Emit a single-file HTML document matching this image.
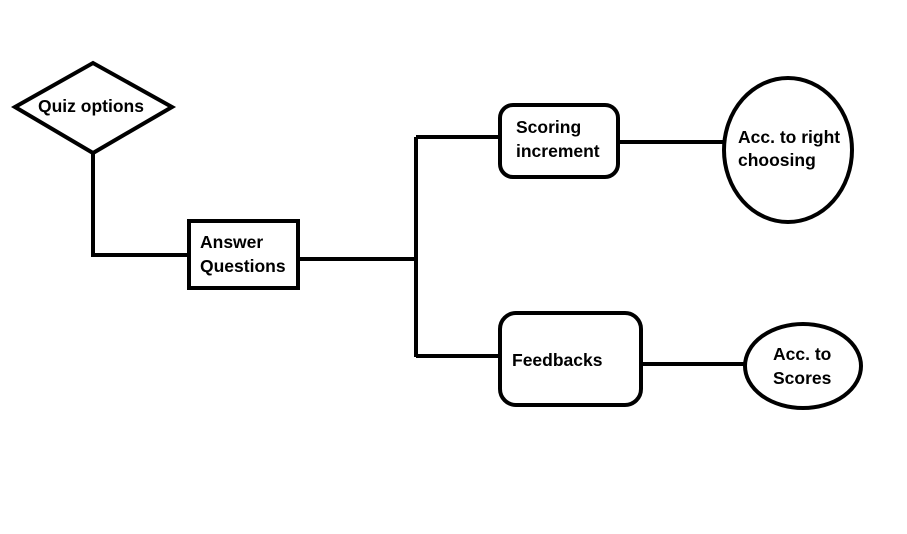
<!DOCTYPE html>
<html><head><style>
body{margin:0;background:#fff;}
svg text{font-family:"Liberation Sans",sans-serif;font-weight:bold;font-size:17.5px;fill:#000;}
</style></head><body>
<svg width="907" height="529" viewBox="0 0 907 529" xmlns="http://www.w3.org/2000/svg">
<g fill="none" stroke="#000" stroke-width="4">
<polygon points="15,107 93,63 172,107 93,153" fill="#fff"/>
<polyline points="93,153 93,255 189,255"/>
<rect x="189" y="221" width="109" height="67"/>
<line x1="298" y1="259" x2="416" y2="259"/>
<line x1="416" y1="137" x2="416" y2="357"/>
<line x1="416" y1="137" x2="499" y2="137"/>
<line x1="416" y1="356" x2="499" y2="356"/>
<rect x="500" y="105" width="118" height="72" rx="13"/>
<line x1="618" y1="142" x2="724" y2="142"/>
<ellipse cx="788" cy="150" rx="64" ry="72"/>
<rect x="500" y="313" width="141" height="92" rx="16"/>
<line x1="641" y1="364" x2="745" y2="364"/>
<ellipse cx="803" cy="366" rx="58" ry="42"/>
</g>
<text x="38" y="112">Quiz options</text>
<text x="200" y="248">Answer</text>
<text x="200" y="272">Questions</text>
<text x="516" y="133">Scoring</text>
<text x="516" y="157">increment</text>
<text x="738" y="143">Acc. to right</text>
<text x="738" y="166">choosing</text>
<text x="512" y="366">Feedbacks</text>
<text x="773" y="360">Acc. to</text>
<text x="773" y="384">Scores</text>
</svg>
</body></html>
